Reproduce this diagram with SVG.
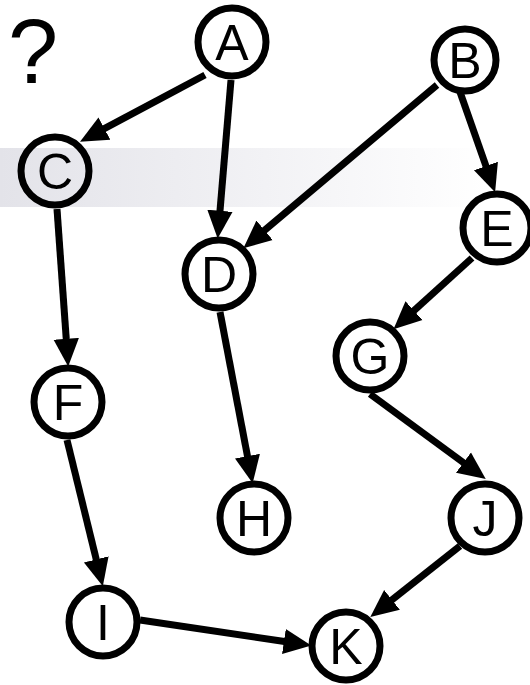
<svg xmlns="http://www.w3.org/2000/svg" width="530" height="685" viewBox="0 0 530 685">
<style>
.n circle{stroke:#000;stroke-width:7;fill:#fff}
.n text{font-family:"Liberation Sans",Arial,sans-serif;font-size:50px;text-anchor:middle;fill:#000}
.e line{stroke:#000;stroke-width:7;marker-end:url(#ah)}
</style>
<defs>
<linearGradient id="band" x1="0" y1="0" x2="1" y2="0">
<stop offset="0" stop-color="#e3e3e9"/>
<stop offset="0.5" stop-color="#f2f2f5"/>
<stop offset="0.92" stop-color="#ffffff"/>
</linearGradient>
<marker id="ah" markerUnits="userSpaceOnUse" markerWidth="30" markerHeight="30" viewBox="0 -12 26 24" refX="2" refY="0" orient="auto">
<path d="M0,-11 L24,0 L0,11 z" fill="#000"/>
</marker>
</defs>
<rect x="0" y="148" width="530" height="59" fill="url(#band)"/>
<text x="33" y="83" font-family="Liberation Sans,Arial,sans-serif" font-size="90" text-anchor="middle">?</text>
<g id="connectors" class="e">
<line x1="205" y1="75" x2="102.4" y2="129.7"/>
<line x1="231" y1="80" x2="219.8" y2="213.1"/>
<line x1="437" y1="85" x2="262.8" y2="231.8"/>
<line x1="460" y1="92" x2="486.7" y2="168.2"/>
<line x1="57" y1="209" x2="66.4" y2="341.1"/>
<line x1="220" y1="312" x2="247.9" y2="458.4"/>
<line x1="472" y1="258" x2="412.3" y2="312.2"/>
<line x1="370" y1="394" x2="465.3" y2="464"/>
<line x1="460" y1="546" x2="390.2" y2="601.3"/>
<line x1="67" y1="440" x2="96.8" y2="561.6"/>
<line x1="140" y1="620" x2="286.2" y2="641.8"/>
</g>
<g id="A" class="n"><circle cx="232" cy="42" r="34"/><text x="232" y="60">A</text></g>
<g id="B" class="n"><circle cx="465" cy="60" r="31"/><text x="465" y="78">B</text></g>
<g id="C" class="n"><circle cx="55" cy="171" r="34" style="fill:none"/><text x="55" y="189">C</text></g>
<g id="D" class="n"><circle cx="219" cy="274" r="34"/><text x="219" y="292">D</text></g>
<g id="E" class="n"><circle cx="497" cy="228" r="34"/><text x="497" y="246">E</text></g>
<g id="F" class="n"><circle cx="68" cy="402" r="34"/><text x="68" y="420">F</text></g>
<g id="G" class="n"><circle cx="370" cy="356" r="34"/><text x="370" y="374">G</text></g>
<g id="H" class="n"><circle cx="254" cy="518" r="34"/><text x="254" y="536">H</text></g>
<g id="I" class="n"><circle cx="103" cy="622" r="34"/><text x="103" y="640">I</text></g>
<g id="J" class="n"><circle cx="485" cy="518" r="34"/><text x="485" y="536">J</text></g>
<g id="K" class="n"><circle cx="346" cy="646" r="34"/><text x="346" y="664">K</text></g>
</svg>
